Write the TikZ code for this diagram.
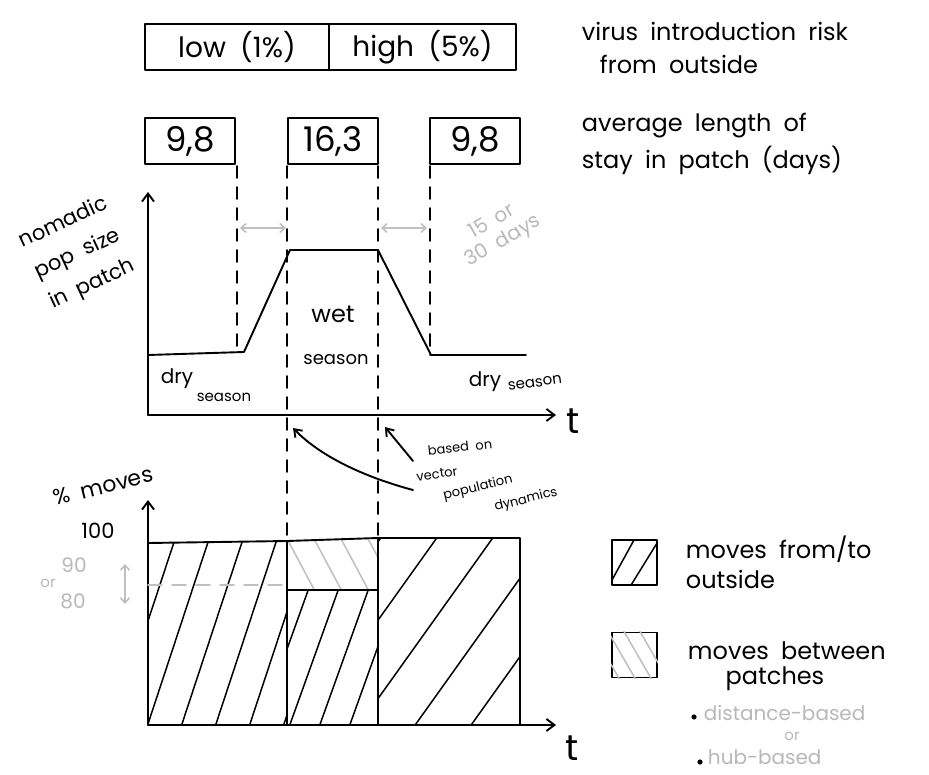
\documentclass[tikz,border=0pt]{standalone}
\usepackage{fontspec}
\setmainfont{Poppins}[WordSpace=1.9]
\usetikzlibrary{arrows.meta}
\begin{document}
\begin{tikzpicture}[x=1pt,y=-1pt,line width=1.9pt,line cap=round,line join=round,
  big/.style={font=\fontsize{24}{26}\selectfont,inner sep=1pt},
  mid/.style={font=\fontsize{20}{22}\selectfont,inner sep=1pt},
  sml/.style={font=\fontsize{15}{16}\selectfont,inner sep=1pt},
  tiny/.style={font=\fontsize{13}{14}\selectfont,inner sep=1pt},
  greytxt/.style={text=black!28},
  valbox/.style={draw,minimum height=46pt,inner sep=0pt},
  dsh/.style={line width=1.7pt,dash pattern=on 12pt off 9pt},
  axis/.style={-{Straight Barb[length=8pt,width=12pt]}},
  ptr/.style={-{Straight Barb[length=7pt,width=10pt]}},
  garrow/.style={line width=1.6pt,{Straight Barb[length=5pt,width=9pt]}-{Straight Barb[length=5pt,width=9pt]},draw=black!25},
  hatchblack/.style={line width=1.5pt},
  hatchgrey/.style={line width=1.5pt,draw=black!25}]
\useasboundingbox (0,0) rectangle (929,775);

% top boxes
\node[valbox,minimum width=184pt,font=\fontsize{28}{30}\selectfont] (low) at (237,47) {low (1\%)};
\node[valbox,minimum width=187pt,font=\fontsize{28}{30}\selectfont] (high) at (422.5,47) {high (5\%)};
\node[valbox,minimum width=90pt,font=\fontsize{34}{36}\selectfont] (s1) at (190,141) {9,8};
\node[valbox,minimum width=90pt,font=\fontsize{34}{36}\selectfont] (s2) at (333,141) {16,3};
\node[valbox,minimum width=90pt,font=\fontsize{34}{36}\selectfont] (s3) at (475,141) {9,8};

% right text
\node[big,anchor=west] (t1) at (580,31) {virus introduction risk};
\node[big,anchor=west] (t2) at (598,64) {from outside};
\node[big,anchor=west] (t3) at (580,126) {average length of};
\node[big,anchor=west] (t4) at (580,160) {stay in patch (days)};

% coordinates
\coordinate (o1) at (148,415);
\coordinate (ytop1) at (148,192);
\coordinate (xend1) at (556,415);
\coordinate (o2) at (148,725);
\coordinate (ytop2) at (148,500);
\coordinate (xend2) at (556,725);
\coordinate (da) at (237,166);
\coordinate (db) at (287,166);
\coordinate (dc) at (378,166);
\coordinate (dd) at (430,166);
\coordinate (c1) at (148,355);
\coordinate (c2) at (244,352);
\coordinate (c3) at (290,250);
\coordinate (c4) at (378,250);
\coordinate (c5) at (431,355);
\coordinate (c6) at (526,355);

% dashed verticals
\draw[dsh] (da) -- (237,352);
\draw[dsh] (dd) -- (430,355);
\draw[dsh] (db) -- (287,540);
\draw[dsh] (dc) -- (378,538);

% upper axes
\draw[axis] (o1) -- (ytop1);
\draw[axis] (o1) -- (xend1);
\node[font=\fontsize{36}{36}\selectfont,inner sep=0pt] (tu) at (573,421) {t};

% curve
\draw (c1) -- (c2) -- (c3) -- (c4) -- (c5) -- (c6);

% grey double arrows
\coordinate (g1) at (240,228); \coordinate (g2) at (286,228);
\coordinate (g3) at (381,228); \coordinate (g4) at (427,228);
\draw[garrow] (g1) -- (g2);
\draw[garrow] (g3) -- (g4);
\node[mid,greytxt,rotate=30,align=center] (g15) at (498,232) {15 or\\30 days};

% left label
\node[mid,rotate=25,align=center,font=\fontsize{21}{34}\selectfont] (nps) at (78,254) {nomadic\\pop size\\in patch};

% season labels
\node[font=\fontsize{24}{26}\selectfont] (wet) at (333,314) {wet};
\node[sml,font=\fontsize{18}{20}\selectfont] (wets) at (336,360) {season};
\node[mid] (dry1) at (177,379) {dry};
\node[sml] (dry1s) at (224,397) {season};
\node[mid] (dry2) at (485,382) {dry};
\node[sml,rotate=8] (dry2s) at (535,383) {season};

% based on vector population dynamics
\node[tiny,rotate=6] (b1) at (460,447) {based on};
\node[tiny,rotate=8] (b2) at (437,474) {vector};
\node[tiny,rotate=14] (b3) at (478,488) {population};
\node[tiny,rotate=14] (b4) at (526,500) {dynamics};
\coordinate (p1) at (293,428);
\coordinate (p2) at (385,427);
\draw[ptr] (413,490) .. controls (368,478) and (322,458) .. (p1);
\draw[ptr] (413,461) -- (p2);

% lower axes
\draw[axis] (o2) -- (ytop2);
\draw[axis] (o2) -- (xend2);
\node[font=\fontsize{36}{36}\selectfont,inner sep=0pt] (tl) at (572,748) {t};
\node[font=\fontsize{22}{24}\selectfont,rotate=14,inner sep=1pt] (pm) at (103,486) {\% moves};
\node[mid,font=\fontsize{21}{22}\selectfont] (h100) at (98,531) {100};

% bars hatching
\begin{scope}
  \clip (148,542) rectangle (287,725);
  \foreach \x in {112,146,...,300} \draw[hatchblack] (\x,730) -- ++(66,-200);
\end{scope}
\begin{scope}
  \clip (287,590) rectangle (378,725);
  \foreach \x in {258,288,...,390} \draw[hatchblack] (\x,730) -- ++(52,-145);
\end{scope}
\begin{scope}
  \clip (287,540) rectangle (378,590);
  \foreach \x in {258,285,...,380} \draw[hatchgrey] (\x,535) -- ++(32,60);
\end{scope}
\begin{scope}
  \clip (378,538) rectangle (520,725);
  \foreach \x in {240,296,...,530} \draw[hatchblack] (\x,735) -- ++(150,-210);
\end{scope}

% bars outline
\coordinate (bt1) at (148,543);
\coordinate (bt2) at (287,541);
\coordinate (bt3) at (378,538);
\coordinate (bt4) at (520,538);
\coordinate (bb4) at (520,725);
\draw (bt1) -- (bt2) -- (bt3) -- (bt4) -- (bb4);
\draw (bt2) -- (287,725);
\draw (bt3) -- (378,725);
\draw (287,590) -- (378,590);

% grey dashed and grey arrow
\draw[draw=black!25,line width=1.6pt,dash pattern=on 14pt off 10pt] (148,585) -- (287,585);
\coordinate (ga) at (125,564); \coordinate (gb) at (125,604);
\draw[garrow] (ga) -- (gb);
\node[sml,greytxt] (or1) at (48,583) {or};
\node[mid,greytxt] (n90) at (74,565) {90};
\node[mid,greytxt] (n80) at (73,601) {80};

% legend
\node[draw,minimum width=45pt,minimum height=45pt,inner sep=0pt] (lg1) at (634.5,562.5) {};
\begin{scope}
  \clip (lg1.south west) rectangle (lg1.north east);
  \draw[hatchblack] (612,580) -- (634,540);
  \draw[hatchblack] (628,590) -- (662,535);
\end{scope}
\node[draw,minimum width=45pt,minimum height=45pt,inner sep=0pt] (lg2) at (634.5,655) {};
\begin{scope}
  \clip (lg2.south west) rectangle (lg2.north east);
  \foreach \x in {590,606,622,638} \draw[hatchgrey] (\x,628) -- ++(30,52);
\end{scope}
\node[big,anchor=west] (l1) at (684,549) {moves from/to};
\node[big,anchor=west] (l2) at (684,579) {outside};
\node[big,anchor=west] (l3) at (686,651) {moves between};
\node[big] (l4) at (775,679) {patches};
\fill (694,717) circle (2.6pt);
\fill (700,762) circle (2.6pt);
\node[mid,greytxt,anchor=west] (l5) at (702,713) {distance-based};
\node[sml,greytxt] (l6) at (792,736) {or};
\node[mid,greytxt,anchor=west] (l7) at (706,757) {hub-based};
\end{tikzpicture}
\end{document}
